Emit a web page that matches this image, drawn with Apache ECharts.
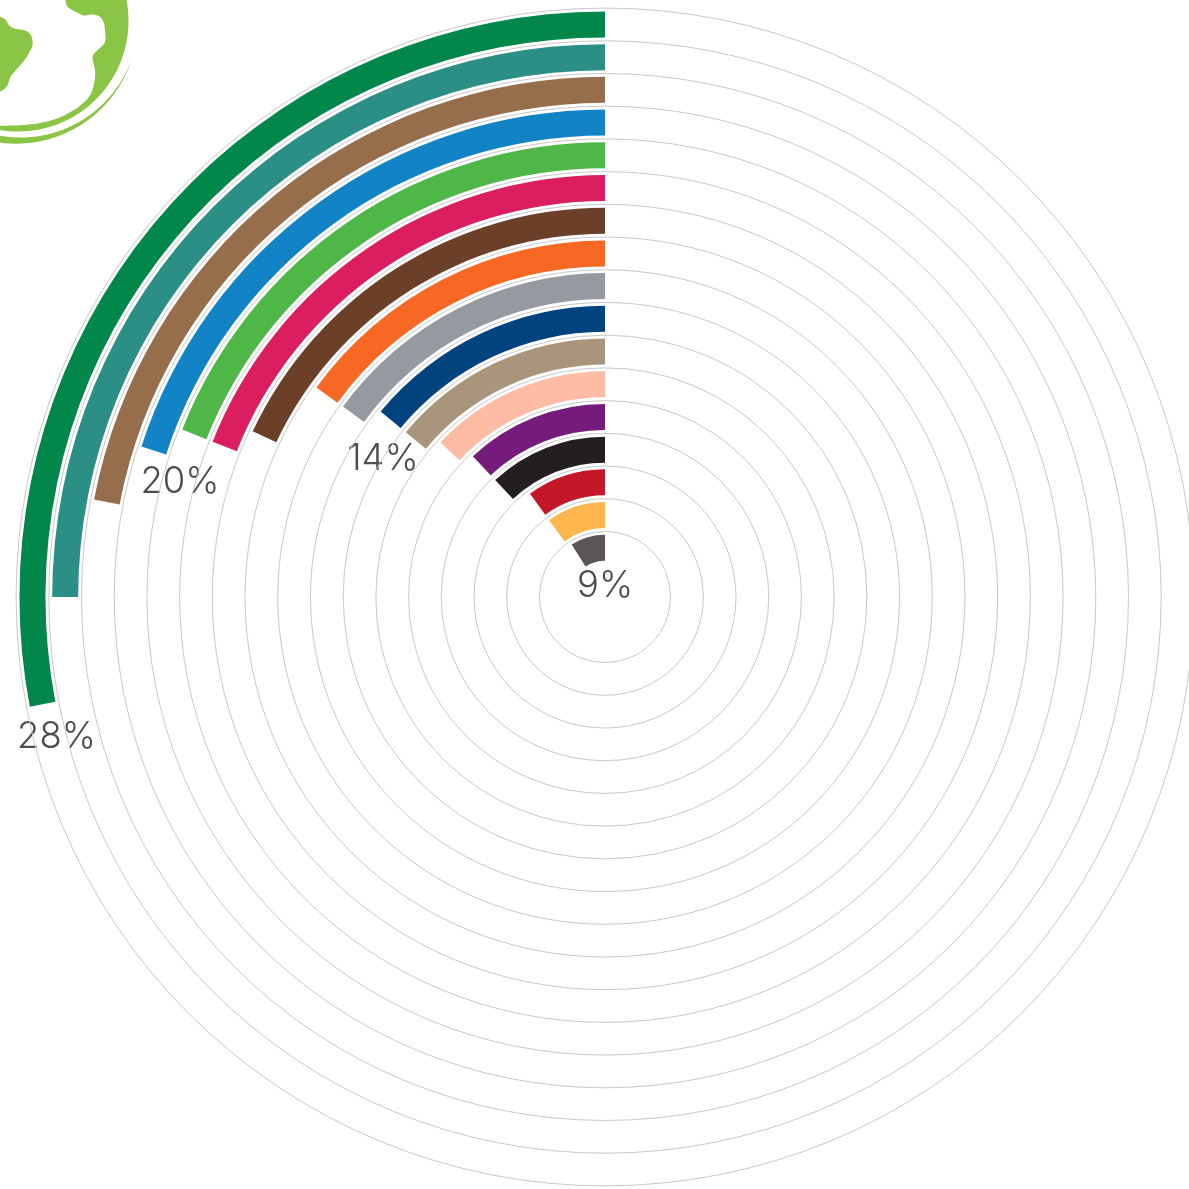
<!DOCTYPE html>
<html>
<head>
<meta charset="utf-8">
<title>Radial bars</title>
<script src="https://cdn.jsdelivr.net/npm/echarts@6/dist/echarts.min.js"></script>
<style>
html, body { margin: 0; padding: 0; background: #fff; }
#chart { width: 1189px; height: 1189px; }
</style>
</head>
<body>
<div id="chart"></div>
<script>
// inner ring first
const categories = ['r1', 'r2', 'r3', 'r4', 'r5', 'r6', 'r7', 'r8', 'r9', 'r10', 'r11', 'r12', 'r13', 'r14', 'r15', 'r16', 'r17']
const values = [9, 10, 10, 12, 12, 13, 14, 14, 15, 15, 18, 19, 19, 20, 22, 25, 28]
const ringColors = ['#5b5556', '#fdb64e', '#c41829', '#231f20', '#741b7c', '#fdbca3', '#a8957c', '#00437f', '#959aa0', '#f66824', '#6c3f28', '#db1e60', '#4eb748', '#1284c6', '#976e4c', '#2c8f85', '#02874b']
const labelValues = [28, 20, 14, 9]

const myChart = echarts.init(document.getElementById('chart'))

// circles sit on the band edges, the first edge has no circle
const circleColors = categories.map(() => '#c9c9c9')
circleColors.unshift('rgba(0,0,0,0)')
circleColors.push('#c9c9c9')

const labelPos = [
  [56.5, 737.5],
  [180, 482],
  [383, 459],
  [605, 586.5]
]

// logo helpers
function arcPoints(cx, cy, r0, r1, from, to) {
  const pts = []
  for (let i = 0; i <= 60; i++) {
    const t = i / 60
    const a = ((from + (to - from) * t) * Math.PI) / 180
    const r = r0 + (r1 - r0) * t
    pts.push([cx + r * Math.cos(a), cy + r * Math.sin(a)])
  }
  return pts
}
function soften(points) {
  let pts = points
  for (let k = 0; k < 3; k++) {
    const next = [pts[0]]
    for (let i = 0; i < pts.length - 1; i++) {
      const a = pts[i]
      const b = pts[i + 1]
      next.push([a[0] * 0.75 + b[0] * 0.25, a[1] * 0.75 + b[1] * 0.25])
      next.push([a[0] * 0.25 + b[0] * 0.75, a[1] * 0.25 + b[1] * 0.75])
    }
    next.push(pts[pts.length - 1])
    pts = next
  }
  return pts
}

const logoGreen = '#8bc546'
const globeEdge = soften([[65, -6], [66, 6], [72, 10], [80, 14], [84, 16], [92, 14], [100, 16], [104, 22], [105, 30], [106, 42], [100, 48], [92, 55], [93, 62], [96, 72], [93, 90], [88, 99], [75, 110], [55, 120], [30, 125], [-6, 126]])
const leftLand = soften([[-6, 15], [5, 18], [9, 26], [15, 29], [25, 30], [31, 34], [33, 42], [32, 48], [25, 60], [15, 71], [10, 77], [7, 88], [-6, 95]])
const swooshOuter = arcPoints(18, 21, 120, 123, 18, 100)
const swooshInner = arcPoints(18, 21, 116, 120, 100, 18)

myChart.setOption({
  animation: false,
  backgroundColor: '#fff',
  polar: {
    center: [605, 597],
    radius: [32.9, 588.9]
  },
  angleAxis: {
    show: false,
    min: 0,
    max: 100,
    startAngle: 90,
    clockwise: false
  },
  radiusAxis: {
    type: 'category',
    data: categories,
    axisLine: { show: false },
    axisTick: { show: false },
    axisLabel: { show: false },
    splitLine: {
      show: true,
      lineStyle: { color: circleColors, width: 1 }
    }
  },
  series: [
    {
      type: 'bar',
      coordinateSystem: 'polar',
      barWidth: 26,
      silent: true,
      data: values.map((v, i) => {
        return { value: v, itemStyle: { color: ringColors[i] } }
      })
    }
  ],
  graphic: [
    // logo corner
    {
      type: 'polygon',
      silent: true,
      shape: { points: globeEdge.concat(arcPoints(18, 21, 110.5, 110.5, 100, -12)) },
      style: { fill: logoGreen }
    },
    {
      type: 'polygon',
      silent: true,
      shape: { points: leftLand },
      style: { fill: logoGreen }
    },
    {
      type: 'polygon',
      silent: true,
      shape: { points: swooshOuter.concat(swooshInner) },
      style: { fill: logoGreen }
    }
  ].concat(labelValues.map((v, i) => {
    return {
      type: 'text',
      silent: true,
      x: labelPos[i][0],
      y: labelPos[i][1],
      style: {
        text: v + '%',
        fill: '#4d4d4f',
        font: '300 36.5px Inter',
        textAlign: 'center',
        textVerticalAlign: 'middle'
      }
    }
  }))
})
</script>
</body>
</html>
